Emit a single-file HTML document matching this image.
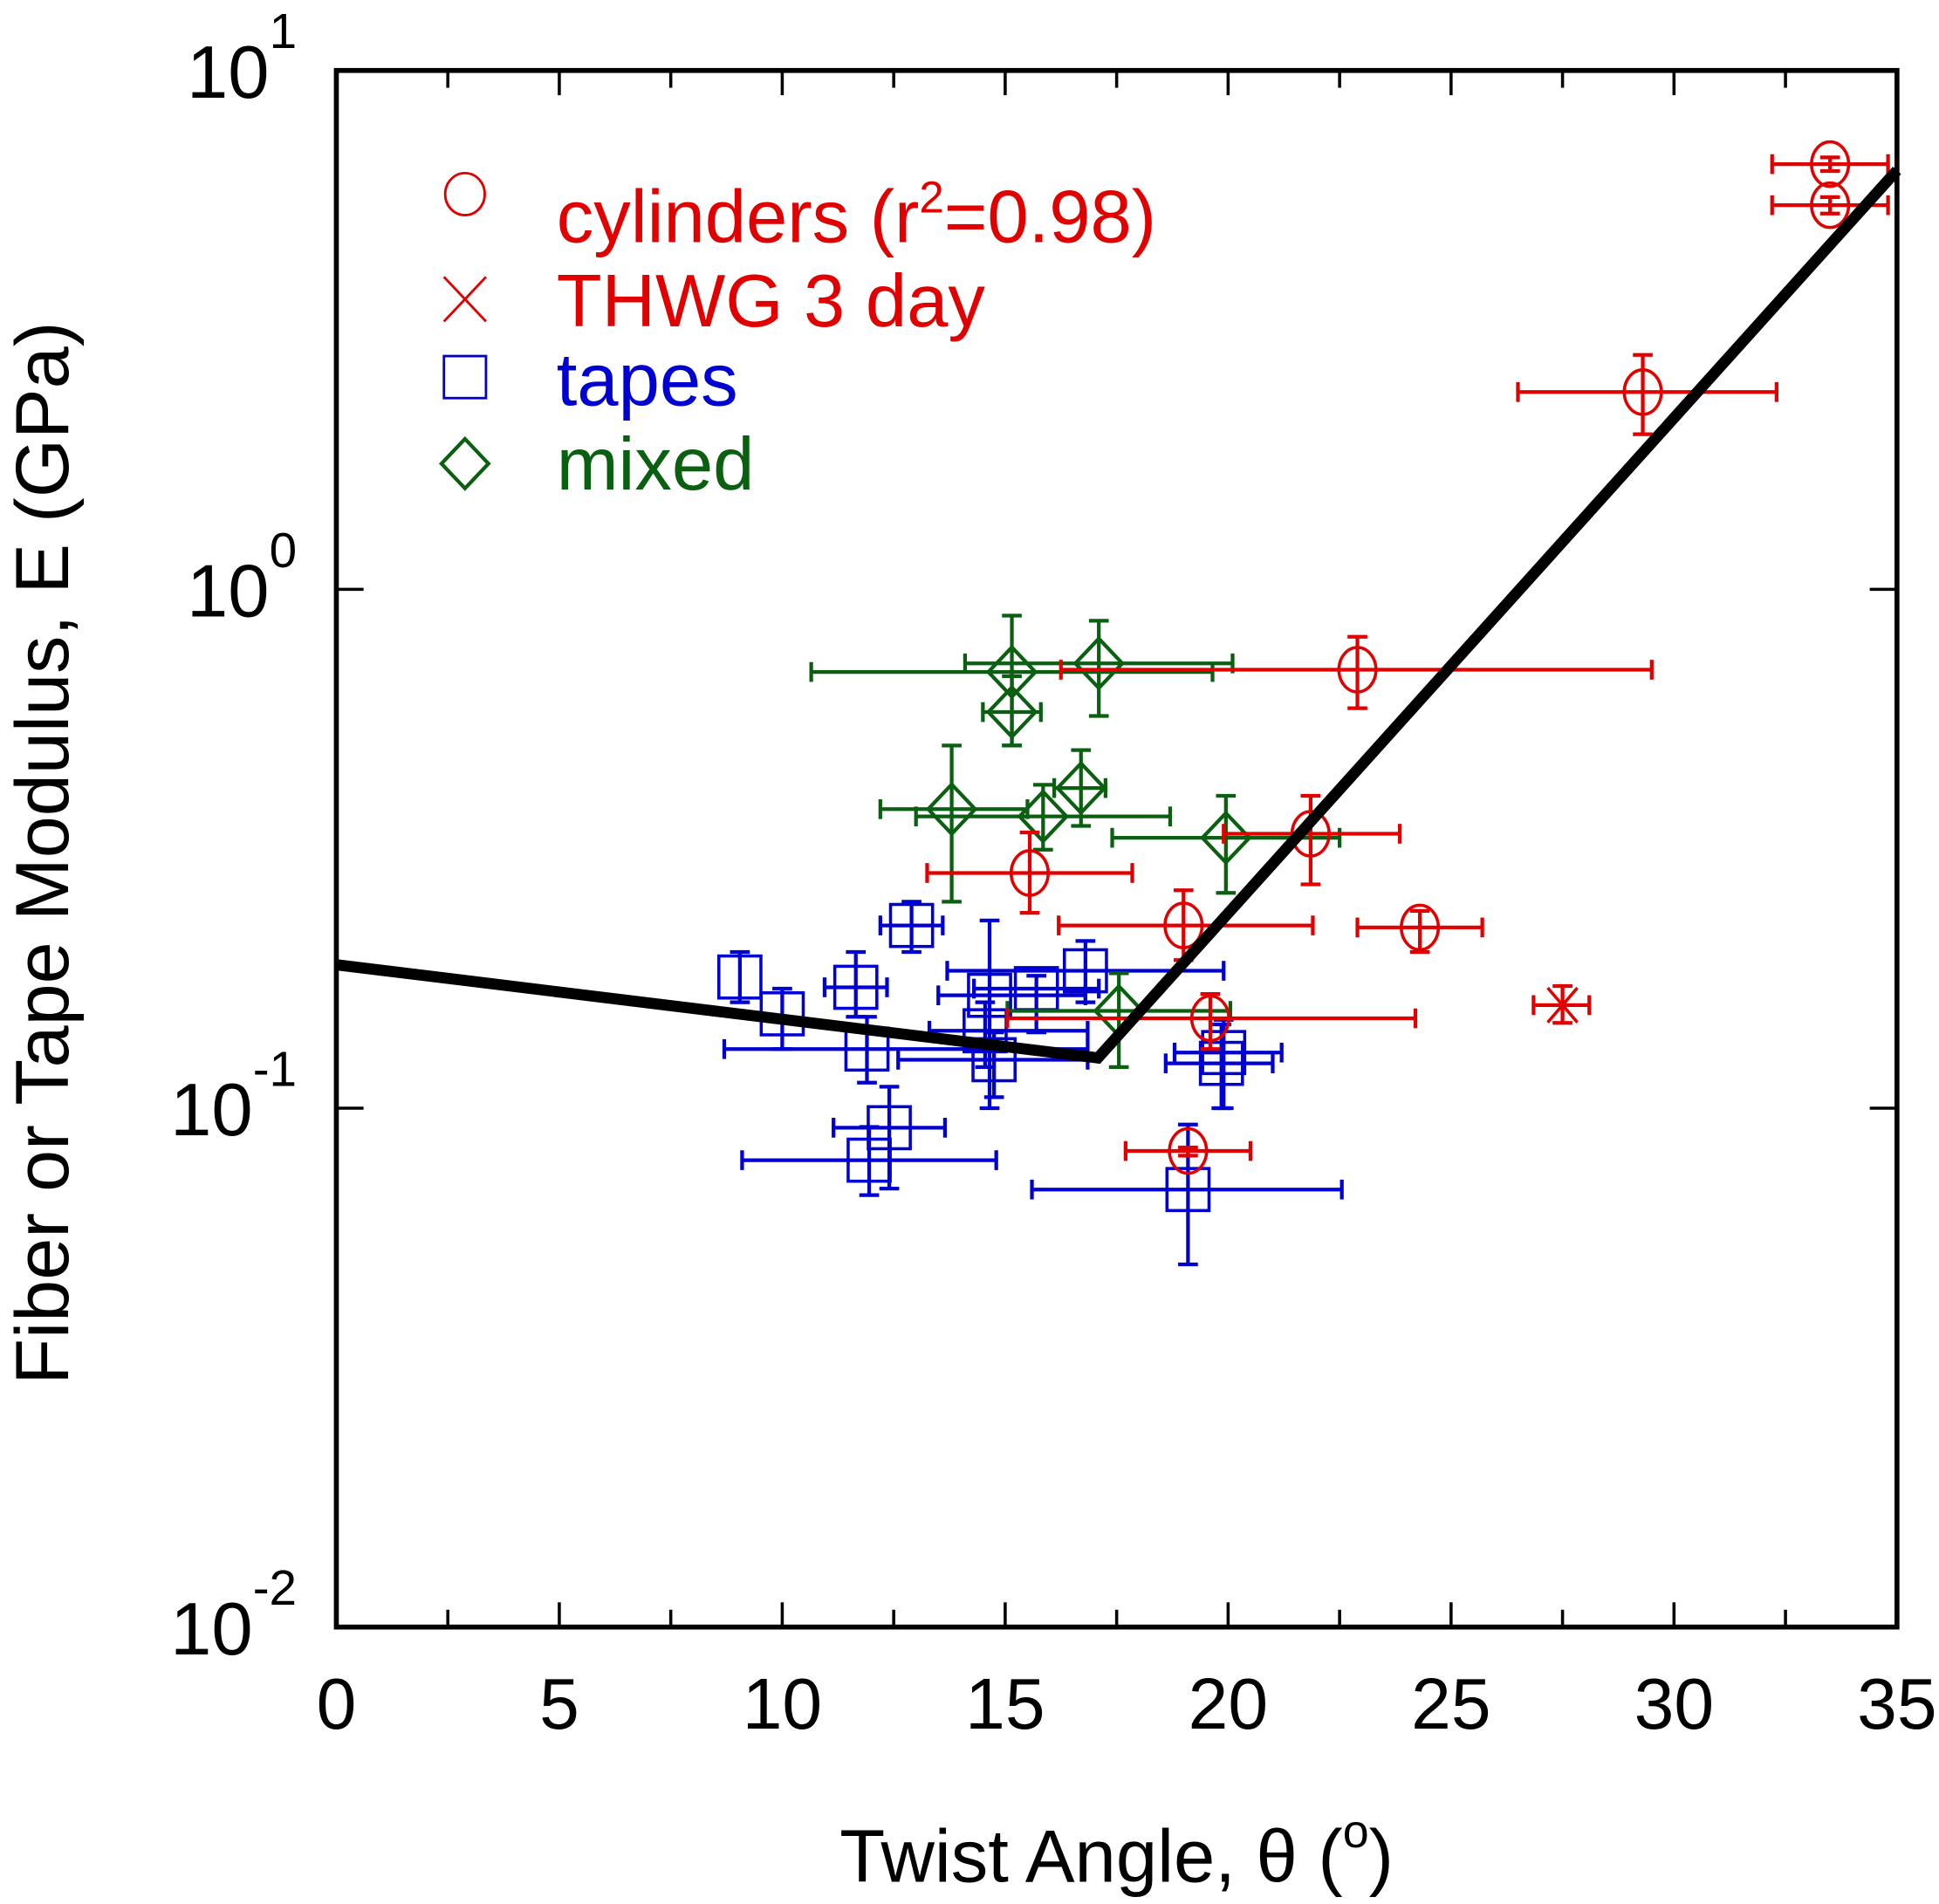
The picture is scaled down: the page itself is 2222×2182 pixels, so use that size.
<!DOCTYPE html>
<html><head><meta charset="utf-8"><style>
html,body{margin:0;padding:0;background:#fff;}
svg{display:block;}
text{font-family:"Liberation Sans",sans-serif;}
</style></head>
<body>
<svg id="chart" width="2222" height="2182" viewBox="0 0 1568 1540" preserveAspectRatio="none" xmlns="http://www.w3.org/2000/svg">
<g id="axes"></g>
<g id="series"></g>
<g id="legend">
 <ellipse cx="376" cy="157" rx="16" ry="17" fill="none" stroke="#e00000" stroke-width="2"/>
 <text x="450" y="196" font-size="60" fill="#e00000">cylinders (r<tspan dy="-24" font-size="36">2</tspan><tspan dy="24">=0.98)</tspan></text>
 <path d="M359,224 L393,260 M393,224 L359,260" stroke="#e00000" stroke-width="2" fill="none"/>
 <text x="450" y="264" font-size="60" fill="#e00000">THWG 3 day</text>
 <rect x="359" y="288" width="34" height="34" fill="none" stroke="#0000d0" stroke-width="2"/>
 <text x="450" y="328" font-size="60" fill="#0000d0">tapes</text>
 <path d="M376,355 L395,375 L376,395 L357,375 Z" fill="none" stroke="#0a6010" stroke-width="3"/>
 <text x="450" y="396" font-size="60" fill="#0a6010">mixed</text>
</g>
<script>
// ---- data ----
const xTicks=[0,5,10,15,20,25,30,35];
const yDecades=[-2,-1,0,1];
const cylX=[33.5,33.5,29.3,22.9,21.85,15.55,19.0,24.3,19.6,19.1];
const cylY=[6.6,5.5,2.4,0.70,0.338,0.284,0.225,0.223,0.149,0.0827];
const cylXlo=[32.2,32.2,26.5,16.25,19.9,13.25,16.2,22.9,15.05,17.7];
const cylXhi=[34.8,34.8,32.3,29.5,23.85,17.85,21.9,25.7,24.2,20.5];
const cylYlo=[6.4,5.3,1.99,0.59,0.27,0.238,0.193,0.2,0.13,0.081];
const cylYhi=[6.8,5.7,2.83,0.81,0.40,0.34,0.263,0.24,0.166,0.084];
const thwgX=[27.5],thwgY=[0.158],thwgXlo=[26.85],thwgXhi=[28.1],thwgYlo=[0.146],thwgYhi=[0.172];
const tapX=[9.05,10.0,11.65,11.9,12.9,12.4,11.95,14.65,14.55,14.75,15.7,16.8,19.9,19.85,19.1];
const tapY=[0.179,0.152,0.171,0.130,0.225,0.0917,0.0794,0.165,0.141,0.124,0.17,0.184,0.128,0.122,0.0697];
const tapXlo=[9.05,10.0,10.95,8.7,12.2,11.15,9.1,13.5,13.3,12.6,14.3,13.7,18.8,18.6,15.6];
const tapXhi=[9.05,10.0,12.35,16.85,13.6,13.65,14.8,16.8,16.85,16.85,17.1,19.9,21.2,21.0,22.55];
const tapYlo=[0.16,0.13,0.15,0.112,0.2,0.07,0.068,0.1,0.12,0.105,0.14,0.16,0.1,0.1,0.05];
const tapYhi=[0.2,0.17,0.2,0.15,0.25,0.11,0.092,0.23,0.16,0.14,0.18,0.21,0.148,0.145,0.093];
const mixX=[15.15,17.1,15.15,13.8,15.85,16.7,19.95,17.55];
const mixY=[0.693,0.72,0.58,0.377,0.365,0.414,0.332,0.154];
const mixXlo=[10.65,14.1,14.5,12.2,13.0,16.1,17.4,15.05];
const mixXhi=[19.65,20.1,15.8,15.5,18.7,17.25,22.5,20.05];
const mixYlo=[0.5,0.57,0.5,0.25,0.315,0.35,0.26,0.12];
const mixYhi=[0.89,0.87,0.68,0.5,0.42,0.49,0.4,0.182];
const fitX=[0,17.08,35];
const fitY=[0.189,0.125,6.42];
// ---- axes ----
const L=272,R=1534,T=57,B=1316;
const sx=v=>L+(v-0)/(35-0)*(R-L);
const sy=v=>B-(Math.log10(v)+2)/3*(B-T);
const NS="http://www.w3.org/2000/svg";
function mk(tag,attrs,parent){const e=document.createElementNS(NS,tag);for(const k in attrs)e.setAttribute(k,attrs[k]);parent.appendChild(e);return e;}
const ax=document.getElementById('axes');
let fr=mk('rect',{x:L,y:T,width:R-L,height:B-T,fill:'none',stroke:'#000','stroke-width':4},ax);


for(let v=2.5;v<35;v+=2.5){
  const major=(v%5===0),len=major?20:14;
  let t1=mk('line',{x1:sx(v),x2:sx(v),y1:B,y2:B-len,stroke:'#000','stroke-width':2.5},ax);
  
  
  let t2=mk('line',{x1:sx(v),x2:sx(v),y1:T,y2:T+len,stroke:'#000','stroke-width':2.5},ax);
  
  
}
xTicks.forEach(v=>{
  let t=mk('text',{x:sx(v),y:B+82,'font-size':58,'text-anchor':'middle'},ax);
  t.textContent=v;
  
  
});
yDecades.forEach(d=>{
  const y=sy(Math.pow(10,d));
  if(d>-2&&d<1){
    let a=mk('line',{x1:L,x2:L+22,y1:y,y2:y,stroke:'#000','stroke-width':2.5},ax);
    
    
    let b=mk('line',{x1:R,x2:R-22,y1:y,y2:y,stroke:'#000','stroke-width':2.5},ax);
    
    
  }
  let t=mk('text',{x:240,y:y+22,'font-size':60,'text-anchor':'end'},ax);
  
  
  t.textContent='10';
  let s=mk('tspan',{dy:-40,'font-size':40},t);
  s.textContent=d;
});
let xt=mk('text',{x:903,y:1522,'font-size':60,'text-anchor':'middle'},ax);


xt.textContent='Twist Angle, θ (';
let xs=mk('tspan',{dy:-28,'font-size':38},xt);xs.textContent='o';
let xs2=mk('tspan',{dy:28},xt);xs2.textContent=')';
let yt=mk('text',{x:0,y:0,'font-size':61,'text-anchor':'middle',transform:'translate(55,690) rotate(-90)'},ax);


yt.textContent='Fiber or Tape Modulus, E (GPa)';
// ---- series ----
const sg=document.getElementById('series');
function errbars(g,x,y,xlo,xhi,ylo,yhi,col){
  const cx=sx(x),cy=sy(y),w=3;
  if(xhi>xlo){
    mk('line',{x1:sx(xlo),x2:sx(xhi),y1:cy,y2:cy,stroke:col,'stroke-width':w},g);
    mk('line',{x1:sx(xlo),x2:sx(xlo),y1:cy-8,y2:cy+8,stroke:col,'stroke-width':w},g);
    mk('line',{x1:sx(xhi),x2:sx(xhi),y1:cy-8,y2:cy+8,stroke:col,'stroke-width':w},g);
  }
  mk('line',{x1:cx,x2:cx,y1:sy(ylo),y2:sy(yhi),stroke:col,'stroke-width':w},g);
  mk('line',{x1:cx-8,x2:cx+8,y1:sy(ylo),y2:sy(ylo),stroke:col,'stroke-width':w},g);
  mk('line',{x1:cx-8,x2:cx+8,y1:sy(yhi),y2:sy(yhi),stroke:col,'stroke-width':w},g);
}
function series(name,X,Y,XL,XH,YL,YH,col,shape){
  X.forEach((x,i)=>{
    const g=mk('g',{},sg);
    
    
    errbars(g,x,Y[i],XL[i],XH[i],YL[i],YH[i],col);
    const cx=sx(x),cy=sy(Y[i]);
    if(shape==='circle')mk('ellipse',{cx:cx,cy:cy,rx:15,ry:18,fill:'none',stroke:col,'stroke-width':2.5},g);
    if(shape==='square')mk('rect',{x:cx-17,y:cy-17,width:34,height:34,fill:'none',stroke:col,'stroke-width':2.5},g);
    if(shape==='diamond')mk('path',{d:`M${cx},${cy-20}L${cx+19},${cy}L${cx},${cy+20}L${cx-19},${cy}Z`,fill:'none',stroke:col,'stroke-width':3},g);
    if(shape==='x')mk('path',{d:`M${cx-12},${cy-14}L${cx+12},${cy+14}M${cx+12},${cy-14}L${cx-12},${cy+14}`,fill:'none',stroke:col,'stroke-width':2.5},g);
  });
}
series('tape',tapX,tapY,tapXlo,tapXhi,tapYlo,tapYhi,'#0000d0','square');
series('mixed',mixX,mixY,mixXlo,mixXhi,mixYlo,mixYhi,'#0a6010','diamond');
series('cylinder',cylX,cylY,cylXlo,cylXhi,cylYlo,cylYhi,'#e00000','circle');
series('thwg',thwgX,thwgY,thwgXlo,thwgXhi,thwgYlo,thwgYhi,'#e00000','x');
const fit=mk('polyline',{points:fitX.map((x,i)=>sx(x)+','+sy(fitY[i])).join(' '),fill:'none',stroke:'#000','stroke-width':9},sg);


</script>
</svg>
</body></html>
